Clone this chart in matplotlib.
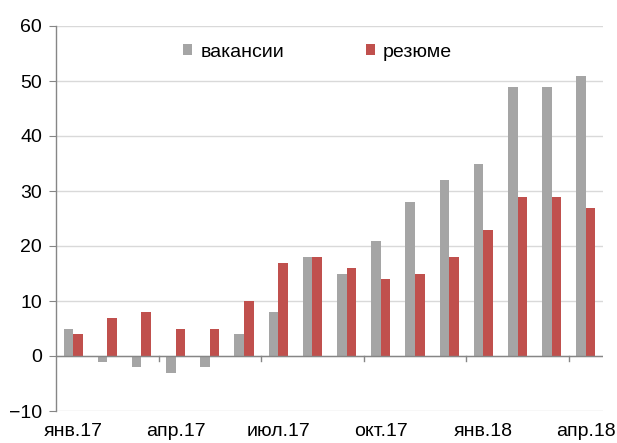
import matplotlib
matplotlib.use("Agg")
import matplotlib.pyplot as plt
import numpy as np

categories = ["янв.17", "фев.17", "мар.17", "апр.17", "май.17", "июн.17", "июл.17", "авг.17",
              "сен.17", "окт.17", "ноя.17", "дек.17", "янв.18", "фев.18", "мар.18", "апр.18"]
vacancies = [5, -1, -2, -3, -2, 4, 8, 18, 15, 21, 28, 32, 35, 49, 49, 51]
resumes = [4, 7, 8, 5, 5, 10, 17, 18, 16, 14, 15, 18, 23, 29, 29, 27]
series_names = ["вакансии", "резюме"]
label_every = 3

plt.rcParams['font.family'] = ['Liberation Sans', 'DejaVu Sans']

fig = plt.figure(figsize=(6.17, 4.43), dpi=100)
W, H = 617, 443
ax = fig.add_axes([56 / W, 1 - 411 / H, (603 - 56) / W, (411 - 26) / H])

x = np.arange(len(categories))
bw = 0.28
ax.bar(x - bw / 2, vacancies, bw, color="#A5A5A5", label=series_names[0], zorder=3)
ax.bar(x + bw / 2, resumes, bw, color="#C0504D", label=series_names[1], zorder=3)

ax.set_xlim(-0.5, len(categories) - 0.5)
ax.set_ylim(-10, 60)
ax.set_yticks(np.arange(-10, 61, 10))
ax.grid(axis="y", color="#D9D9D9", linewidth=1, zorder=0)
ax.set_axisbelow(True)

for s in ["top", "right", "bottom"]:
    ax.spines[s].set_visible(False)
ax.spines["left"].set_color("#868686")
ax.spines["left"].set_linewidth(1)

ax.tick_params(axis="y", length=5, color="#868686", labelsize=14, pad=5, direction="out")
idx = list(range(0, len(categories), label_every))
ax.set_xticks(idx)
ax.set_xticklabels([categories[i] for i in idx])
ax.tick_params(axis="x", length=0, labelsize=14, pad=9)

# zero axis line with tick marks between category groups
ax.axhline(0, color="#868686", linewidth=1, zorder=4)
for b in np.arange(label_every - 0.5, len(categories) - 0.5, label_every):
    ax.plot([b, b], [0, -0.9], color="#868686", linewidth=1, zorder=4, clip_on=False)

leg = ax.legend(loc="center", bbox_to_anchor=(0.478, 0.932), ncol=2, frameon=False,
                fontsize=14, handlelength=0.5, handleheight=0.5, handletextpad=0.4,
                columnspacing=4.2, borderpad=0, borderaxespad=0)

fig.savefig("out.png", dpi=100)
